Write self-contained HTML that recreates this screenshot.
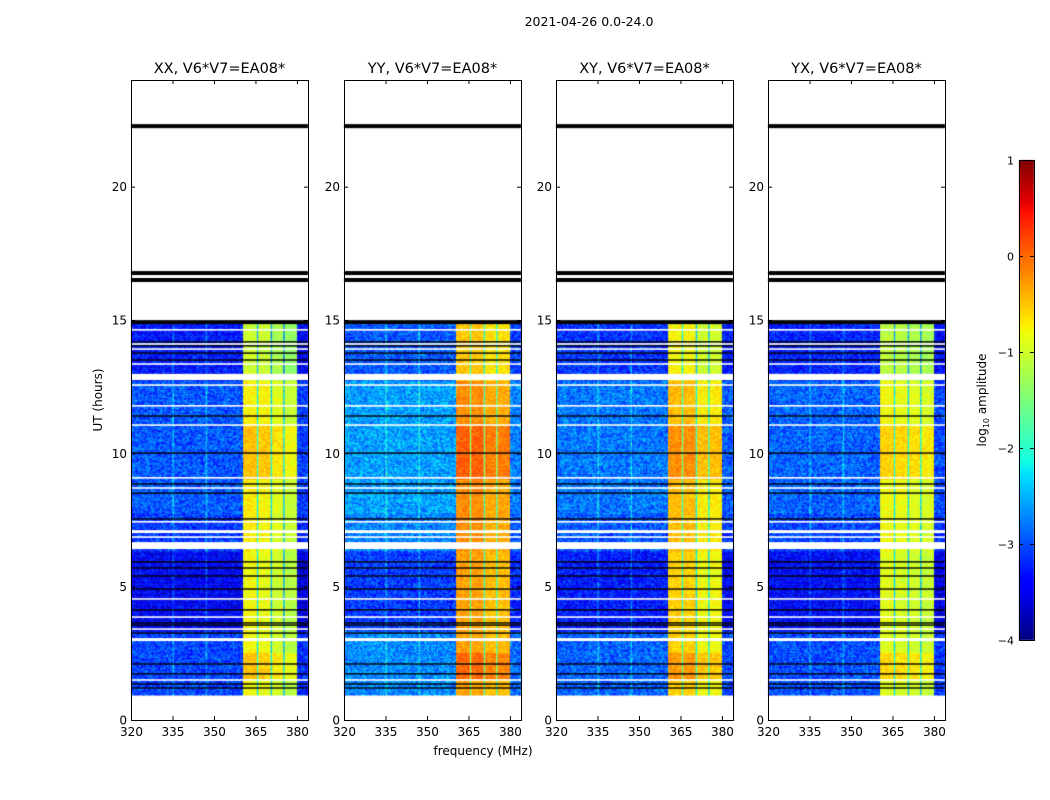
<!DOCTYPE html>
<html><head><meta charset="utf-8">
<style>
body{margin:0;background:#fff;}
#wrap{position:relative;width:1050px;height:800px;font-family:"DejaVu Sans","Liberation Sans",sans-serif;}
canvas,svg{position:absolute;left:0;top:0;}
svg text{font-family:"DejaVu Sans","Liberation Sans",sans-serif;}
</style></head>
<body>
<div id="wrap">
<canvas id="cv" width="1050" height="800"></canvas>
<svg id="sv" width="1050" height="800"></svg>
</div>
<script>
// ---- data ----
const panelTitles = ["XX, V6*V7=EA08*","YY, V6*V7=EA08*","XY, V6*V7=EA08*","YX, V6*V7=EA08*"];
const bgLevels = [-3.2,-2.85,-3.05,-3.15];
const subBandEdges = [360.5,365.5,370.5,375,380];
const subBandLevels = [[-0.85,-0.9,-1.05,-1.2],[-0.35,-0.35,-0.5,-0.5],[-0.6,-0.6,-0.85,-0.85],[-0.95,-1.0,-1.05,-1.1]];
const bgByTime = [[0.94,3.3,0.15],[3.3,6.3,-0.25],[6.3,7.7,0.1],[7.7,12.7,0.25],[12.7,14.92,-0.1]];
const bandByTime = [[0.94,1.5,0.05],[1.5,2.5,0.35],[2.5,6.3,0.05],[6.3,9.0,0.15],[9.0,11.0,0.4],[11.0,12.7,0.15],[12.7,14.92,-0.15]];
const vLines = [335,347];
const dataRange = [0.94,14.92];
const whiteGaps = [[12.75,12.98],[6.41,6.67],[7.01,7.12],[2.96,3.07]];
const whiteLines = [14.63,14.1,13.91,13.35,12.56,11.78,11.06,9.08,8.7,7.43,6.86,4.54,3.86,3.41,1.5];
const blackLines = [14.89,14.18,14.03,13.76,13.5,11.4,10.01,8.85,8.51,7.54,5.93,5.7,5.4,4.91,4.13,3.64,3.56,3.26,2.1,1.73,1.35,1.2];
const thickBlack = [22.27,16.76,16.5,14.92];
const xTicks = [320,335,350,365,380];
const yTicks = [0,5,10,15,20];
const cbTicks = [1,0,-1,-2,-3,-4];
const panelLefts = [131,344,556,768];

// ---- geometry ----
const PW=177, PT=80, PB=720;
const xScale=(f,i)=>panelLefts[i]+(f-320)/64*PW;
const yScale=h=>PB-(h/24)*(PB-PT);
const VMIN=-4,VMAX=1;
function interp(pts,t){for(let i=1;i<pts.length;i++){if(t<=pts[i][0]){const a=pts[i-1],b=pts[i];return a[1]+(b[1]-a[1])*(t-a[0])/(b[0]-a[0]);}}return pts[pts.length-1][1];}
const JR=[[0,0],[0.35,0],[0.66,1],[0.89,1],[1,0.5]];
const JG=[[0,0],[0.125,0],[0.375,1],[0.64,1],[0.91,0],[1,0]];
const JB=[[0,0.5],[0.11,1],[0.34,1],[0.65,0],[1,0]];
function jet(v){
  let t=(v-VMIN)/(VMAX-VMIN); t=Math.max(0,Math.min(1,t));
  return `rgb(${Math.round(interp(JR,t)*255)},${Math.round(interp(JG,t)*255)},${Math.round(interp(JB,t)*255)})`;
}
function hash(a,b,c){let h=a*374761393+b*668265263+c*2147483647;h=(h^(h>>>13))*1274126177;h=h^(h>>>16);return ((h>>>0)%1000)/1000;}
function seg(arr,h){for(const s of arr){if(h>=s[0]&&h<s[1])return s[2];}return 0;}

const cv=document.getElementById('cv'),ctx=cv.getContext('2d');
const df=0.5, dh=0.05;
for(let p=0;p<4;p++){
  for(let h=dataRange[0];h<dataRange[1];h+=dh){
    const y0=yScale(h+dh), y1=yScale(h);
    const ri=Math.round(h/dh);
    for(let f=320;f<384;f+=df){
      const ci=Math.round(f/df);
      let v;
      let sb=-1;
      for(let k=0;k<4;k++){if(f>=subBandEdges[k]&&f<subBandEdges[k+1])sb=k;}
      if(sb>=0){
        v=subBandLevels[p][sb]+seg(bandByTime,h)+(hash(p,ri,ci)-0.5)*0.4;
        if(subBandEdges.slice(1,4).some(e=>Math.abs(f-e)<0.3))v-=1.4;
      }else{
        v=bgLevels[p]+seg(bgByTime,h)+(hash(p,ri,ci)-0.5)*0.8;
        if(vLines.some(l=>Math.abs(f-l)<0.3))v+=0.5;
        if(f>=380)v-=0.15;
      }
      ctx.fillStyle=jet(v);
      ctx.fillRect(xScale(f,p),y0,xScale(f+df,p)-xScale(f,p)+0.5,y1-y0+0.5);
    }
  }
  const x0=panelLefts[p];
  ctx.fillStyle='#fff';
  for(const g of whiteGaps){ctx.fillRect(x0,yScale(g[1]),PW,yScale(g[0])-yScale(g[1]));}
  for(const w of whiteLines){ctx.fillRect(x0,yScale(w)-0.8,PW,1.6);}
  ctx.fillStyle='#000';
  for(const b of blackLines){ctx.fillRect(x0,yScale(b)-0.7,PW,1.4);}
  for(const b of thickBlack){ctx.fillRect(x0,yScale(b)-2,PW,4);}
}
// colorbar
for(let y=160;y<640;y++){
  const v=VMAX-(y-160)/480*(VMAX-VMIN);
  ctx.fillStyle=jet(v);ctx.fillRect(1019,y,15,1);
}

// ---- svg overlay ----
const NS="http://www.w3.org/2000/svg",sv=document.getElementById('sv');
function el(tag,attrs,txt){const e=document.createElementNS(NS,tag);for(const k in attrs)e.setAttribute(k,attrs[k]);if(txt!==undefined)e.textContent=txt;sv.appendChild(e);return e;}
for(let p=0;p<4;p++){
  const x0=panelLefts[p];
  const fr=el('rect',{x:x0+0.5,y:PT+0.5,width:PW,height:PB-PT,fill:'none',stroke:'#000','stroke-width':1});
  
  
  const t=el('text',{x:x0+PW/2,y:73,'text-anchor':'middle','font-size':14.5},panelTitles[p]);
  
  
  for(const xt of xTicks){
    const x=xScale(xt,p)+0.5;
    el('line',{x1:x,x2:x,y1:PB,y2:PB-4,stroke:'#000'});
    el('line',{x1:x,x2:x,y1:PT,y2:PT+4,stroke:'#000'});
    const l=el('text',{x:x,y:PB+16,'text-anchor':'middle','font-size':12},String(xt));
    
    
  }
  for(const yt of yTicks){
    const y=yScale(yt)+0.5;
    el('line',{x1:x0,x2:x0+4,y1:y,y2:y,stroke:'#000'});
    el('line',{x1:x0+PW-4,x2:x0+PW,y1:y,y2:y,stroke:'#000'});
    const l=el('text',{x:x0-4,y:y+4,'text-anchor':'end','font-size':12},String(yt));
    
    
  }
}
const st=el('text',{x:589,y:26,'text-anchor':'middle','font-size':12.5},'2021-04-26 0.0-24.0');


const xl=el('text',{x:483,y:755,'text-anchor':'middle','font-size':12},'frequency (MHz)');


const yl=el('text',{x:102,y:400,'text-anchor':'middle','font-size':12,transform:'rotate(-90 102 400)'},'UT (hours)');


const cf=el('rect',{x:1019.5,y:160.5,width:15,height:480,fill:'none',stroke:'#000'});


for(const c of cbTicks){
  const y=160+(VMAX-c)/(VMAX-VMIN)*480+0.5;
  el('line',{x1:1019,x2:1023,y1:y,y2:y,stroke:'#000'});
  el('line',{x1:1030,x2:1034,y1:y,y2:y,stroke:'#000'});
  const l=el('text',{x:1014,y:y+4,'text-anchor':'end','font-size':11},c<0?'\u2212'+(-c):String(c));
  
  
}
const cl=el('text',{x:986,y:400,'text-anchor':'middle','font-size':12,transform:'rotate(-90 986 400)'});


cl.innerHTML='log<tspan font-size="8" dy="3">10</tspan><tspan dy="-3"> amplitude</tspan>';
</script>
</body></html>
